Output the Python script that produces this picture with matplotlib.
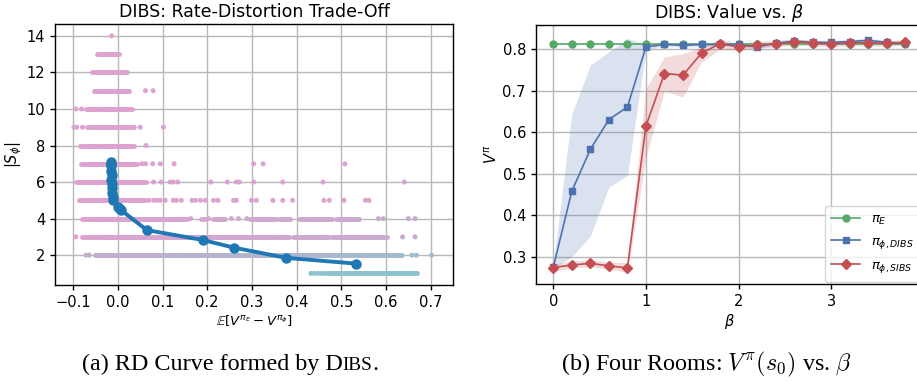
import numpy as np
import matplotlib
matplotlib.use("Agg")
import matplotlib.pyplot as plt
from matplotlib.collections import LineCollection
from matplotlib.colors import to_rgb

# ---------------- data: left panel (rate-distortion) ----------------
# dense runs of points: (|S|, x_start, x_end)
seg_y = [13, 12, 11, 10, 9, 8, 7, 6, 5,
         4, 4, 4, 4, 4, 4, 4,
         3, 3, 3,
         2,
         1]
seg_x0 = [-0.046, -0.057, -0.053, -0.072, -0.068, -0.085, -0.083, -0.094, -0.087,
          -0.079, 0.185, 0.214, 0.295, 0.361, 0.406, 0.487,
          -0.079, 0.391, 0.480,
          -0.050,
          0.469]
seg_x1 = [0.002, 0.020, 0.024, 0.032, 0.036, 0.036, 0.043, 0.062, 0.060,
          0.154, 0.196, 0.240, 0.354, 0.385, 0.480, 0.539,
          0.384, 0.473, 0.602,
          0.636,
          0.669]

# isolated points per |S| level
pts_by_level = {
    14: [-0.014],
    11: [0.062, 0.079],
    10: [-0.094, -0.081],
    9: [-0.098, -0.092, -0.079, 0.050, 0.102],
    8: [0.063],
    7: [0.054, 0.062, 0.078, 0.095, 0.126, 0.304, 0.325, 0.508],
    6: [0.080, 0.097, 0.117, 0.124, 0.134, 0.208, 0.245, 0.265, 0.272, 0.304,
        0.369, 0.459, 0.641],
    5: [0.069, 0.080, 0.088, 0.095, 0.106, 0.124, 0.131, 0.142, 0.166, 0.174,
        0.185, 0.196, 0.214, 0.224, 0.259, 0.265, 0.299, 0.310, 0.347, 0.369,
        0.391, 0.461, 0.473, 0.506, 0.554, 0.562],
    4: [0.163, 0.203, 0.254, 0.270, 0.289, 0.583, 0.594, 0.650, 0.665],
    3: [-0.094, 0.637, 0.665],
    2: [-0.071, -0.064, 0.658, 0.668, 0.702],
    1: [0.432, 0.440, 0.448, 0.455, 0.462],
}

# blue RD curve
rd_x = [-0.015, -0.016, -0.015, -0.016, -0.014, -0.015, -0.013, -0.012, -0.013,
        -0.011, -0.010, 0.000, 0.005, 0.008, 0.065, 0.190, 0.260, 0.377, 0.532]
rd_y = [7.10, 7.00, 6.90, 6.60, 6.40, 6.10, 5.90, 5.70, 5.40,
        5.20, 5.00, 4.65, 4.50, 4.45, 3.37, 2.83, 2.41, 1.85, 1.54]

# ---------------- data: right panel (value vs beta) ----------------
beta = [0.0, 0.2, 0.4, 0.6, 0.8, 1.0, 1.2, 1.4, 1.6, 1.8,
        2.0, 2.2, 2.4, 2.6, 2.8, 3.0, 3.2, 3.4, 3.6, 3.8]
v_expert = [0.812] * 20
v_dibs = [0.275, 0.458, 0.559, 0.631, 0.661, 0.806, 0.812, 0.810, 0.812, 0.812,
          0.812, 0.806, 0.815, 0.820, 0.817, 0.817, 0.819, 0.822, 0.817, 0.815]
v_dibs_lo = [0.272, 0.300, 0.350, 0.468, 0.496, 0.800, 0.808, 0.805, 0.808, 0.808,
             0.807, 0.801, 0.810, 0.814, 0.812, 0.812, 0.814, 0.816, 0.812, 0.811]
v_dibs_hi = [0.282, 0.645, 0.762, 0.794, 0.827, 0.812, 0.816, 0.814, 0.816, 0.816,
             0.816, 0.811, 0.820, 0.825, 0.822, 0.822, 0.824, 0.827, 0.822, 0.819]
v_sibs = [0.274, 0.280, 0.284, 0.278, 0.273, 0.615, 0.742, 0.738, 0.791, 0.814,
          0.806, 0.811, 0.813, 0.818, 0.816, 0.813, 0.816, 0.816, 0.815, 0.817]
v_sibs_lo = [0.266, 0.272, 0.276, 0.270, 0.262, 0.540, 0.700, 0.685, 0.770, 0.800,
             0.798, 0.803, 0.806, 0.810, 0.808, 0.806, 0.809, 0.808, 0.807, 0.810]
v_sibs_hi = [0.282, 0.290, 0.292, 0.288, 0.285, 0.706, 0.782, 0.790, 0.806, 0.826,
             0.814, 0.820, 0.822, 0.825, 0.823, 0.820, 0.823, 0.823, 0.822, 0.824]

# ---------------- figure ----------------
W, H = 917, 383
fig = plt.figure(figsize=(W / 100, H / 100), dpi=100)

GRID = "#b8b8b8"
PINK = np.array(to_rgb("#dea2d0"))
TEAL = np.array(to_rgb("#8ac4cc"))
# colour tint range per level (style): (t at x=-0.1, t at x=0.7)
tint = {1: (0.85, 1.0), 2: (0.30, 0.75), 3: (0.0, 0.30), 4: (0.0, 0.30)}


def colour(level, x):
    a, b = tint.get(level, (0.0, 0.05))
    t = a + (b - a) * (x + 0.1) / 0.8
    t = min(max(t, 0.0), 1.0)
    return tuple(PINK * (1 - t) + TEAL * t)


ax1 = fig.add_axes([55 / W, 1 - 285.3 / H, (453.3 - 55) / W, (285.3 - 24) / H])
ax1.set_axisbelow(True)
ax1.grid(True, color=GRID, lw=1.0)

segs, cols = [], []
for yv, a, b in zip(seg_y, seg_x0, seg_x1):
    n = max(2, int((b - a) / 0.01) + 2)
    edges = np.linspace(a, b, n)
    for e0, e1 in zip(edges[:-1], edges[1:]):
        segs.append([(e0, yv), (e1, yv)])
        cols.append(colour(yv, 0.5 * (e0 + e1)))
lc = LineCollection(segs, colors=cols, linewidths=3.5, capstyle="round", zorder=2)
ax1.add_collection(lc)

px, py, pc = [], [], []
for lvl, xs in pts_by_level.items():
    for xv in xs:
        px.append(xv)
        py.append(lvl)
        pc.append(colour(lvl, xv))
ax1.scatter(px, py, s=13, c=pc, linewidths=0, zorder=2)

ax1.plot(rd_x, rd_y, "-o", color="#1f77b4", lw=2.8, ms=6.5, zorder=4)

ax1.set_xlim(-0.1405, 0.7505)
ax1.set_ylim(0.35, 14.65)
ax1.set_xticks([-0.1, 0.0, 0.1, 0.2, 0.3, 0.4, 0.5, 0.6, 0.7])
ax1.set_yticks([2, 4, 6, 8, 10, 12, 14])
ax1.tick_params(labelsize=10.5, length=3.5, width=1.0)
ax1.set_title("DIBS: Rate-Distortion Trade-Off", fontsize=12.5, pad=5)
ax1.set_xlabel(r"$\mathbb{E}[V^{\pi_E} - V^{\pi_\phi}]$", fontsize=9.5, labelpad=2)
ax1.set_ylabel(r"$|S_\phi|$", fontsize=10.5, labelpad=2)
for s in ax1.spines.values():
    s.set_linewidth(1.0)

# right panel
ax2 = fig.add_axes([535.7 / W, 1 - 284.3 / H, (922.9 - 535.7) / W, (284.3 - 25) / H])
ax2.set_axisbelow(True)
ax2.grid(True, color=GRID, lw=1.0)
GREEN, BLUE, RED = "#55a868", "#4c72b0", "#c44e52"
ax2.fill_between(beta, v_dibs_lo, v_dibs_hi, color=BLUE, alpha=0.2, lw=0)
ax2.fill_between(beta, v_sibs_lo, v_sibs_hi, color=RED, alpha=0.2, lw=0)
ax2.plot(beta, v_expert, "-o", color=GREEN, lw=1.2, ms=5, label=r"$\pi_E$")
ax2.plot(beta, v_dibs, "-s", color=BLUE, lw=1.2, ms=5, label=r"$\pi_{\phi,DIBS}$")
ax2.plot(beta, v_sibs, "-D", color=RED, lw=1.2, ms=5, label=r"$\pi_{\phi,SIBS}$")
ax2.set_xlim(-0.19, 3.99)
ax2.set_ylim(0.2335, 0.859)
ax2.set_xticks([0, 1, 2, 3])
ax2.set_yticks([0.3, 0.4, 0.5, 0.6, 0.7, 0.8])
ax2.tick_params(labelsize=10.5, length=3.5, width=1.0)
ax2.set_title(r"DIBS: Value vs. $\beta$", fontsize=12.5, pad=5)
ax2.set_xlabel(r"$\beta$", fontsize=10.5, labelpad=2)
ax2.set_ylabel(r"$V^\pi$", fontsize=10.5, labelpad=2)
for s in ax2.spines.values():
    s.set_linewidth(1.0)
ax2.legend(loc="lower right", fontsize=9.5, borderaxespad=0.2, handlelength=2.2,
           labelspacing=0.6, borderpad=0.5)

# captions (serif, small caps emulated)
SERIF = "Liberation Serif"
renderer = fig.canvas.get_renderer()
parts = [("(a) RD Curve formed by D", 17.4), ("IBS", 13.9), (".", 17.4)]
texts = [fig.text(0, 0, s, fontsize=fs, family=SERIF) for s, fs in parts]
widths = [t.get_window_extent(renderer).width for t in texts]
x = 230 - sum(widths) / 2
ybase = 1 - 370 / H
for t, w in zip(texts, widths):
    t.set_position((x / W, ybase))
    x += w

fig.text(706 / W, ybase, r"(b) Four Rooms: $V^\pi(s_0)$ vs. $\beta$", fontsize=17.4,
         family=SERIF, math_fontfamily="cm", ha="center")

fig.savefig("out.png", dpi=100)
